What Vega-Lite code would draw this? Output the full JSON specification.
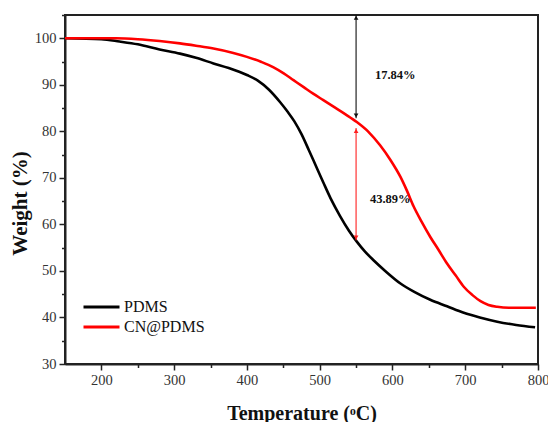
{
  "$schema": "https://vega.github.io/schema/vega-lite/v6.json",
  "width": 473,
  "height": 349,
  "autosize": {"type": "none"},
  "padding": {"left": 65, "top": 15, "right": 10, "bottom": 58},
  "background": "white",
  "config": {
    "view": {"stroke": "#222", "strokeWidth": 2},
    "font": "Liberation Serif",
    "legend": {"labelFont": "Liberation Serif", "labelFontSize": 16, "labelColor": "#111"},
    "axis": {
      "domainColor": "#222", "domainWidth": 2,
      "tickColor": "#222", "tickWidth": 1.5,
      "grid": false,
      "labelFont": "Liberation Serif", "labelFontSize": 14.5, "labelColor": "#333",
      "titleFont": "Liberation Serif", "titleFontSize": 20, "titleFontWeight": "bold", "titleColor": "#111"
    }
  },
  "resolve": {"axis": {"x": "independent", "y": "independent"}},
  "datasets": {
    "curves": [
      {"series": "PDMS", "T": 150, "W": 100},
      {"series": "PDMS", "T": 200, "W": 99.8},
      {"series": "PDMS", "T": 225, "W": 99.3},
      {"series": "PDMS", "T": 250, "W": 98.7},
      {"series": "PDMS", "T": 280, "W": 97.6},
      {"series": "PDMS", "T": 308, "W": 96.7},
      {"series": "PDMS", "T": 330, "W": 95.8},
      {"series": "PDMS", "T": 354, "W": 94.6},
      {"series": "PDMS", "T": 375, "W": 93.6},
      {"series": "PDMS", "T": 400, "W": 92.1},
      {"series": "PDMS", "T": 415, "W": 90.9},
      {"series": "PDMS", "T": 430, "W": 89.0},
      {"series": "PDMS", "T": 446, "W": 86.2},
      {"series": "PDMS", "T": 456, "W": 84.2},
      {"series": "PDMS", "T": 465, "W": 82.2},
      {"series": "PDMS", "T": 475, "W": 79.4},
      {"series": "PDMS", "T": 485, "W": 76.0},
      {"series": "PDMS", "T": 495, "W": 72.5},
      {"series": "PDMS", "T": 505, "W": 69.0},
      {"series": "PDMS", "T": 515, "W": 65.6},
      {"series": "PDMS", "T": 528, "W": 61.8},
      {"series": "PDMS", "T": 540, "W": 58.7},
      {"series": "PDMS", "T": 551, "W": 56.3},
      {"series": "PDMS", "T": 562, "W": 54.2},
      {"series": "PDMS", "T": 574, "W": 52.3},
      {"series": "PDMS", "T": 590, "W": 50.0},
      {"series": "PDMS", "T": 611, "W": 47.3},
      {"series": "PDMS", "T": 630, "W": 45.5},
      {"series": "PDMS", "T": 652, "W": 43.8},
      {"series": "PDMS", "T": 675, "W": 42.4},
      {"series": "PDMS", "T": 698, "W": 41.0},
      {"series": "PDMS", "T": 720, "W": 40.0},
      {"series": "PDMS", "T": 744, "W": 39.1},
      {"series": "PDMS", "T": 770, "W": 38.4},
      {"series": "PDMS", "T": 796, "W": 37.9},
      {"series": "CN@PDMS", "T": 150, "W": 100},
      {"series": "CN@PDMS", "T": 220, "W": 100},
      {"series": "CN@PDMS", "T": 250, "W": 99.8},
      {"series": "CN@PDMS", "T": 280, "W": 99.4},
      {"series": "CN@PDMS", "T": 308, "W": 98.9},
      {"series": "CN@PDMS", "T": 330, "W": 98.4},
      {"series": "CN@PDMS", "T": 354, "W": 97.8},
      {"series": "CN@PDMS", "T": 380, "W": 96.9},
      {"series": "CN@PDMS", "T": 400, "W": 96.0},
      {"series": "CN@PDMS", "T": 420, "W": 94.9},
      {"series": "CN@PDMS", "T": 436, "W": 93.8},
      {"series": "CN@PDMS", "T": 450, "W": 92.5},
      {"series": "CN@PDMS", "T": 464, "W": 91.0},
      {"series": "CN@PDMS", "T": 478, "W": 89.5},
      {"series": "CN@PDMS", "T": 491, "W": 88.1},
      {"series": "CN@PDMS", "T": 505, "W": 86.7},
      {"series": "CN@PDMS", "T": 519, "W": 85.3},
      {"series": "CN@PDMS", "T": 535, "W": 83.7},
      {"series": "CN@PDMS", "T": 551, "W": 82.0},
      {"series": "CN@PDMS", "T": 567, "W": 79.9},
      {"series": "CN@PDMS", "T": 583, "W": 77.0},
      {"series": "CN@PDMS", "T": 597, "W": 73.9},
      {"series": "CN@PDMS", "T": 611, "W": 70.2},
      {"series": "CN@PDMS", "T": 620, "W": 67.2},
      {"series": "CN@PDMS", "T": 629, "W": 63.9},
      {"series": "CN@PDMS", "T": 640, "W": 60.6},
      {"series": "CN@PDMS", "T": 652, "W": 57.3},
      {"series": "CN@PDMS", "T": 663, "W": 54.6},
      {"series": "CN@PDMS", "T": 675, "W": 51.6},
      {"series": "CN@PDMS", "T": 687, "W": 49.0},
      {"series": "CN@PDMS", "T": 698, "W": 46.6},
      {"series": "CN@PDMS", "T": 710, "W": 44.8},
      {"series": "CN@PDMS", "T": 721, "W": 43.5},
      {"series": "CN@PDMS", "T": 732, "W": 42.7},
      {"series": "CN@PDMS", "T": 744, "W": 42.3},
      {"series": "CN@PDMS", "T": 760, "W": 42.1},
      {"series": "CN@PDMS", "T": 797, "W": 42.1}
    ],
    "arrows": [
      {"T": 550, "top": 105, "bottom": 82.8, "c": "#111111"},
      {"T": 550, "top": 80.7, "bottom": 56.6, "c": "#ff2020"}
    ],
    "heads": [
      {"T": 550, "W": 104.4, "dir": "triangle-up", "c": "#111111"},
      {"T": 550, "W": 83.4, "dir": "triangle-down", "c": "#111111"},
      {"T": 550, "W": 80.1, "dir": "triangle-up", "c": "#ff2020"},
      {"T": 550, "W": 57.2, "dir": "triangle-down", "c": "#ff2020"}
    ],
    "labels": [
      {"T": 576, "W": 92.0, "text": "17.84%"},
      {"T": 569, "W": 65.4, "text": "43.89%"}
    ]
  },
  "layer": [
    {
      "data": {"name": "curves"},
      "mark": {"type": "line", "strokeWidth": 2.6, "interpolate": "monotone"},
      "encoding": {
        "x": {
          "field": "T", "type": "quantitative",
          "scale": {"domain": [150, 800], "nice": false, "zero": false},
          "axis": {
            "orient": "bottom",
            "title": "Temperature (ᵒC)",
            "values": [200, 300, 400, 500, 600, 700, 800],
            "labelOverlap": false,
            "tickSize": 6,
            "labelPadding": 3,
            "labelFlush": false,
            "labelFont": "Liberation Serif", "labelFontSize": 14.5, "labelColor": "#333",
            "titleY": 49, "titleBaseline": "middle"
          }
        },
        "y": {
          "field": "W", "type": "quantitative",
          "scale": {"domain": [30, 105], "nice": false, "zero": false},
          "axis": {
            "orient": "left",
            "title": "Weight (%)",
            "titleFontSize": 21,
            "values": [30, 40, 50, 60, 70, 80, 90, 100],
            "labelOverlap": false,
            "tickSize": 6,
            "labelPadding": 3,
            "labelFlush": false,
            "titleX": -45, "titleY": 188, "titleBaseline": "middle", "titleAlign": "center", "titleAngle": -90
          }
        },
        "color": {
          "field": "series", "type": "nominal",
          "scale": {"domain": ["PDMS", "CN@PDMS"], "range": ["#000000", "#ff0000"]},
          "legend": {
            "title": null,
            "orient": "none",
            "legendX": 28.5,
            "legendY": 284,
            "padding": 0,
            "symbolType": "M-3,0H3",
            "symbolSize": 144,
            "symbolStrokeWidth": 3,
            "labelOffset": 14.5,
            "labelFont": "Liberation Serif",
            "labelFontSize": 16,
            "labelColor": "#111",
            "rowPadding": 4
          }
        },
        "detail": {"field": "series"}
      }
    },
    {
      "data": {"name": "arrows"},
      "mark": {"type": "rule", "strokeWidth": 1.1},
      "encoding": {
        "x": {"field": "T", "type": "quantitative",
          "axis": {"orient": "bottom", "values": [250, 350, 450, 550, 650, 750], "labels": false, "domain": false, "tickSize": 3.5, "title": null}},
        "y": {"field": "top", "type": "quantitative",
          "axis": {"orient": "left", "values": [35, 45, 55, 65, 75, 85, 95, 105], "labels": false, "domain": false, "tickSize": 3.5, "title": null}},
        "y2": {"field": "bottom"},
        "color": {"field": "c", "type": "nominal", "scale": null}
      }
    },
    {
      "data": {"name": "heads"},
      "mark": {"type": "point", "filled": true, "size": 22, "opacity": 1},
      "encoding": {
        "x": {"field": "T", "type": "quantitative", "axis": null},
        "y": {"field": "W", "type": "quantitative", "axis": null},
        "shape": {"field": "dir", "type": "nominal", "scale": null},
        "color": {"field": "c", "type": "nominal", "scale": null}
      }
    },
    {
      "data": {"name": "labels"},
      "mark": {"type": "text", "font": "Liberation Serif", "fontSize": 12.5, "fontWeight": "bold", "align": "left", "baseline": "middle", "color": "#111"},
      "encoding": {
        "x": {"field": "T", "type": "quantitative", "axis": null},
        "y": {"field": "W", "type": "quantitative", "axis": null},
        "text": {"field": "text"}
      }
    }
  ]
}
